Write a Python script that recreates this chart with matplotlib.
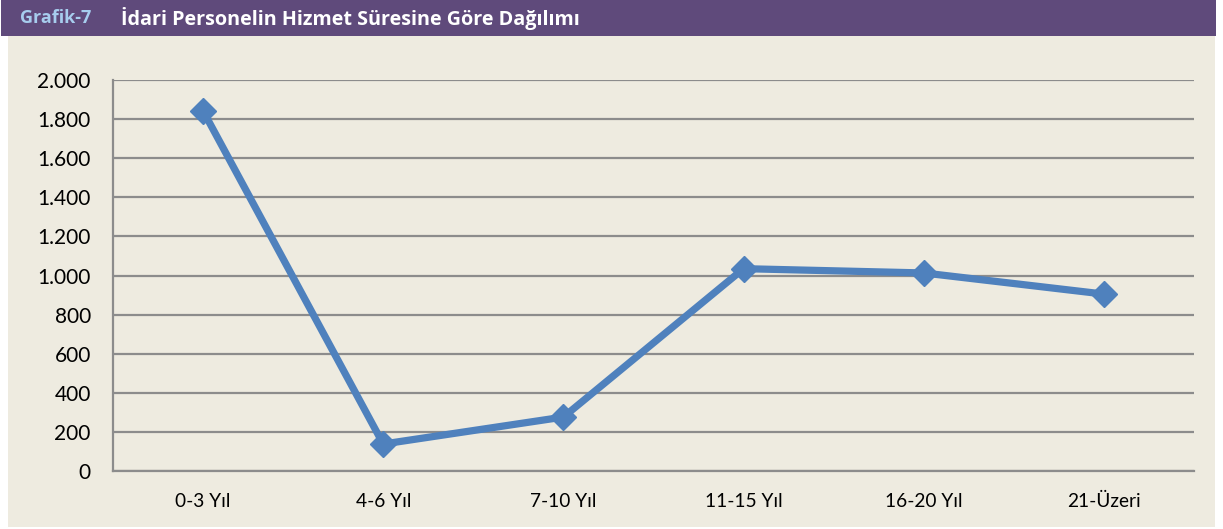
import matplotlib
matplotlib.use("Agg")
import matplotlib.pyplot as plt
from matplotlib.patches import Rectangle
from matplotlib.ticker import FuncFormatter

categories = ["0-3 Yıl", "4-6 Yıl", "7-10 Yıl", "11-15 Yıl", "16-20 Yıl", "21-Üzeri"]
values = [1842, 138, 276, 1035, 1013, 905]
yticks = [0, 200, 400, 600, 800, 1000, 1200, 1400, 1600, 1800, 2000]

W, H = 1223, 529
fig = plt.figure(figsize=(W / 100, H / 100), dpi=100)
fig.patch.set_facecolor("white")

# header band and panel background
fig.add_artist(Rectangle((1 / W, 1 - 36 / H), 1215 / W, 36 / H,
                         transform=fig.transFigure, facecolor="#5f4a7b",
                         edgecolor="none", zorder=0))
fig.add_artist(Rectangle((8 / W, 2 / H), 1207 / W, (527 - 36) / H,
                         transform=fig.transFigure, facecolor="#eeebe0",
                         edgecolor="none", zorder=0))

fig.text(20 / W, 1 - 18 / H, "Grafik-7", color="#a7cdee", fontsize=13,
         fontweight="bold", family="Open Sans", va="center", ha="left")
fig.text(121 / W, 1 - 18 / H, "İdari Personelin Hizmet Süresine Göre Dağılımı",
         color="white", fontsize=14.2, fontweight="bold", family="Open Sans",
         va="center", ha="left")

left, right, top, bottom = 113, 1194, 80, 471
ax = fig.add_axes([left / W, 1 - bottom / H, (right - left) / W, (bottom - top) / H])
ax.set_facecolor("none")
x = list(range(len(categories)))
ax.plot(x, values, color="#4f81bd", linewidth=5.2, marker="D", markersize=13.5,
        markeredgecolor="#4f81bd", markerfacecolor="#4f81bd", zorder=3,
        clip_on=False)
ax.set_xlim(-0.5, len(categories) - 0.5)
ax.set_ylim(0, 2000)
ax.set_yticks(yticks)
ax.yaxis.set_major_formatter(FuncFormatter(lambda v, p: f"{int(v):,}".replace(",", ".")))
ax.set_xticks(x)
ax.set_xticklabels(categories)
ax.grid(axis="y", color="#8c8c8c", linewidth=1.6, zorder=1)
ax.set_axisbelow(True)
for s in ["top", "right"]:
    ax.spines[s].set_visible(False)
ax.spines["left"].set_color("#8c8c8c")
ax.spines["left"].set_linewidth(1.6)
ax.spines["bottom"].set_color("#8c8c8c")
ax.spines["bottom"].set_linewidth(1.6)
ax.tick_params(axis="both", length=0, colors="black")
ax.tick_params(axis="y", pad=16, labelsize=15)
ax.tick_params(axis="x", pad=16, labelsize=13.8)
for lab in ax.get_xticklabels() + ax.get_yticklabels():
    lab.set_family("Lato")

fig.savefig("out.png", dpi=100, facecolor=fig.get_facecolor())
